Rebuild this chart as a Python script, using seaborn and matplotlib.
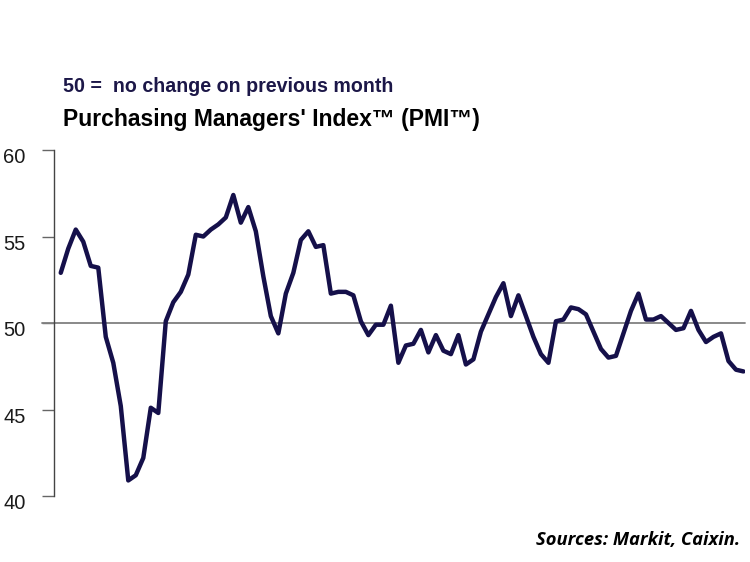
import numpy as np
import pandas as pd
import matplotlib
matplotlib.use("Agg")
import matplotlib.pyplot as plt
import matplotlib.transforms as mtransforms
import seaborn as sns

# Monthly PMI readings, Feb 2008 - Sep 2015
pmi = [52.9, 54.3, 55.4, 54.7, 53.3, 53.2, 49.2, 47.7, 45.2, 40.9, 41.2,
       42.2, 45.1, 44.8, 50.1, 51.2, 51.8, 52.8, 55.1, 55.0, 55.4, 55.7, 56.1,
       57.4, 55.8, 56.7, 55.3, 52.7, 50.4, 49.4, 51.7, 52.9, 54.8, 55.3, 54.4,
       54.5, 51.7, 51.8, 51.8, 51.6, 50.1, 49.3, 49.9, 49.9, 51.0, 47.7, 48.7,
       48.8, 49.6, 48.3, 49.3, 48.4, 48.2, 49.3, 47.6, 47.9, 49.5, 50.5, 51.5,
       52.3, 50.4, 51.6, 50.4, 49.2, 48.2, 47.7, 50.1, 50.2, 50.9, 50.8, 50.5,
       49.5, 48.5, 48.0, 48.1, 49.4, 50.7, 51.7, 50.2, 50.2, 50.4, 50.0, 49.6,
       49.7, 50.7, 49.6, 48.9, 49.2, 49.4, 47.8, 47.3, 47.2]
months = pd.date_range("2008-02-01", periods=len(pmi), freq="MS").strftime("%b %Y").tolist()
yticks = [40, 45, 50, 55, 60]
baseline = 50
subtitle = "50 =  no change on previous month"
title = "Purchasing Managers' Index\u2122 (PMI\u2122)"
source = "Sources: Markit, Caixin."

sns.set_theme(style="ticks")
plt.rcParams["font.family"] = ["Liberation Sans", "DejaVu Sans"]

W, H = 750, 562
fig = plt.figure(figsize=(W / 100, H / 100), dpi=100)
fig.patch.set_facecolor("white")
ax = fig.add_axes([54 / W, 1 - 496 / H, (745 - 54) / W, (496 - 150) / H])
ax.set_facecolor("white")

df = pd.DataFrame({"month": months, "idx": np.arange(len(pmi)), "pmi": pmi})
sns.lineplot(data=df, x="idx", y="pmi", color="#15104a", linewidth=3.2, ax=ax, zorder=3)

ax.axhline(baseline, xmin=-(54 - 42) / (745 - 54), xmax=1, color="#808080",
           linewidth=1.3, zorder=1, clip_on=False)

ax.set_ylim(40, 60)
ax.set_xlim(-0.9, 91.2)
ax.set_yticks(yticks)
ax.set_xticks([])
ax.set_xlabel("")
ax.set_ylabel("")
for s in ["top", "right", "bottom"]:
    ax.spines[s].set_visible(False)
ax.spines["left"].set_color("#444444")
ax.spines["left"].set_linewidth(1.0)
ax.tick_params(axis="y", length=8.6, width=1.0, color="#666666", pad=12,
               labelsize=14.5, labelcolor="#1a1a1a")
offset = mtransforms.ScaledTranslation(0, -4 / 72, fig.dpi_scale_trans)
for lab in ax.get_yticklabels():
    lab.set_transform(lab.get_transform() + offset)

fig.text(63 / W, 1 - 92 / H, subtitle, fontsize=14.1, fontweight="bold",
         color="#1c1748", ha="left", va="baseline")
fig.text(63 / W, 1 - 126 / H, title, fontsize=16.5, fontweight="bold",
         color="#000000", ha="left", va="baseline")
fig.text(740 / W, 1 - 545 / H, source, fontsize=13.2, fontweight="bold",
         fontstyle="italic", color="#000000", ha="right", va="baseline",
         family=["Open Sans", "Lato", "DejaVu Sans"])

fig.savefig("out.png", dpi=100, facecolor="white")
